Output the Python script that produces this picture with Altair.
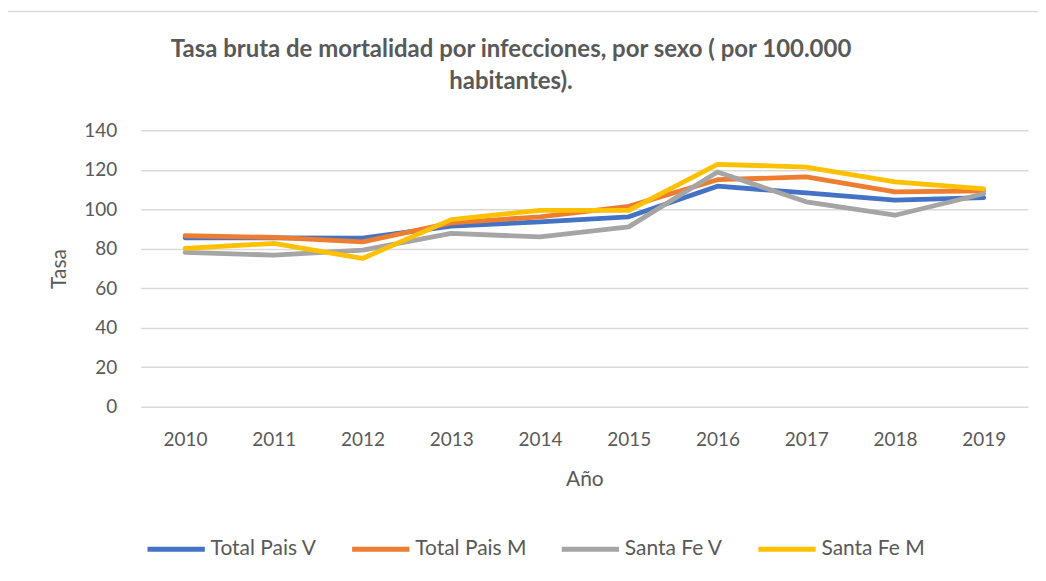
import altair as alt
import pandas as pd

years = ["2010", "2011", "2012", "2013", "2014", "2015", "2016", "2017", "2018", "2019"]
total_pais_v = [85.6, 85.5, 85.4, 91.5, 93.6, 96.2, 111.7, 108.3, 104.6, 105.9]
total_pais_m = [86.6, 85.8, 83.5, 93.1, 96.2, 101.5, 115.0, 116.4, 108.8, 109.4]
santa_fe_v = [78.2, 76.8, 79.3, 87.8, 86.0, 91.1, 118.9, 103.8, 97.0, 107.9]
santa_fe_m = [80.2, 82.7, 75.1, 94.8, 99.5, 99.5, 122.8, 121.4, 113.9, 110.4]

series_names = ["Total Pais V", "Total Pais M", "Santa Fe V", "Santa Fe M"]
series_values = [total_pais_v, total_pais_m, santa_fe_v, santa_fe_m]
colors = ["#4472C4", "#ED7D31", "#A5A5A5", "#FFC000"]
title_lines = ["Tasa bruta de mortalidad por infecciones, por sexo ( por 100.000", "habitantes)."]

rows = []
for name, vals in zip(series_names, series_values):
    for y, v in zip(years, vals):
        rows.append({"Año": y, "Tasa": v, "Serie": name})
df = pd.DataFrame(rows)

FONT = "Lato, Open Sans, sans-serif"
GREY = "#595959"

border = alt.Chart(pd.DataFrame({"a": [0]})).mark_rect(
    filled=False, stroke="#d9d9d9", strokeWidth=1.5
).encode(
    x=alt.value(-134), x2=alt.value(905),
    y=alt.value(-119), y2=alt.value(460)
)

title = alt.Chart(pd.DataFrame({"a": [0]})).mark_text(
    text=title_lines, font=FONT, fontSize=24, fontWeight="bold", color=GREY,
    align="center", baseline="middle", lineHeight=32
).encode(x=alt.value(371), y=alt.value(-80))

lines = alt.Chart(df).mark_line(strokeWidth=4.8, strokeCap="round", strokeJoin="round").encode(
    x=alt.X("Año:O", sort=years, scale=alt.Scale(type="point", padding=0.5),
            axis=alt.Axis(labelAngle=0, title="Año", titleFontSize=21, titleFontWeight="normal",
                          titleColor=GREY, titlePadding=19, labelFontSize=19, labelColor=GREY,
                          labelPadding=24, domain=False, ticks=False, grid=False, labelFont=FONT,
                          titleFont=FONT)),
    y=alt.Y("Tasa:Q", scale=alt.Scale(domain=[0, 140], nice=False),
            axis=alt.Axis(values=[0, 20, 40, 60, 80, 100, 120, 140], title="Tasa",
                          titleFontSize=21, titleFontWeight="normal", titleColor=GREY,
                          titlePadding=14, labelFontSize=19, labelColor=GREY, labelPadding=24,
                          domain=False, ticks=False, grid=True, gridColor="#d9d9d9",
                          gridWidth=1.5, labelFont=FONT, titleFont=FONT)),
    color=alt.Color("Serie:N", sort=series_names,
                    scale=alt.Scale(domain=series_names, range=colors),
                    legend=alt.Legend(title=None, orient="none", legendX=4, legendY=388,
                                      direction="horizontal", symbolType="stroke",
                                      symbolSize=3300, symbolStrokeWidth=5,
                                      labelFontSize=21, labelColor=GREY, labelFont=FONT,
                                      labelOffset=3, columnPadding=24, symbolOffset=0)),
    order=alt.Order("Serie:N")
)

chart = alt.layer(border, title, lines).properties(
    width=889, height=277,
    autosize=alt.AutoSizeParams(type="none"),
    padding={"left": 133, "top": 122, "right": 10, "bottom": 172},
).configure_view(stroke=None)

chart.save("out.html", embed_options={"renderer": "svg", "actions": False})
